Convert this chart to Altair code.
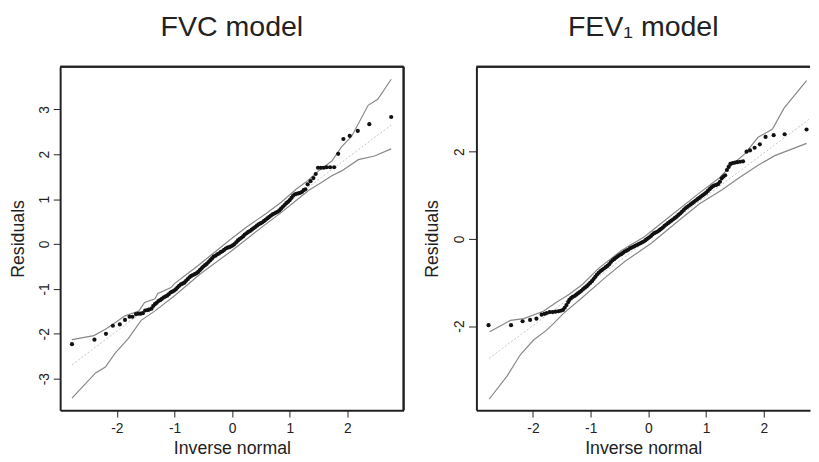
import altair as alt
import pandas as pd

FONT = "Liberation Sans"
INK = "#222222"

# ---------------- FVC model ----------------
fvc_x = [-2.78, -2.39, -2.19, -2.07, -1.95, -1.86, -1.78, -1.73, -1.67, -1.63, -1.59, -1.55,
         -1.51, -1.47, -1.44, -1.40, -1.37, -1.34, -1.31, -1.28, -1.25, -1.22, -1.19, -1.16,
         -1.13, -1.10, -1.07, -1.04, -1.01, -0.98, -0.95, -0.92, -0.89, -0.86, -0.83, -0.80,
         -0.77, -0.74, -0.71, -0.68, -0.65, -0.62, -0.59, -0.56, -0.53, -0.50, -0.47, -0.44,
         -0.41, -0.38, -0.35, -0.32, -0.29, -0.26, -0.23, -0.20, -0.17, -0.14, -0.11, -0.08,
         -0.05, -0.02, 0.01, 0.04, 0.07, 0.10, 0.13, 0.16, 0.19, 0.22, 0.25, 0.28, 0.31, 0.34,
         0.37, 0.40, 0.43, 0.46, 0.49, 0.52, 0.55, 0.58, 0.61, 0.64, 0.67, 0.70, 0.73, 0.76,
         0.79, 0.82, 0.85, 0.88, 0.91, 0.94, 0.97, 1.00, 1.03, 1.06, 1.09, 1.12, 1.15, 1.18,
         1.21, 1.24, 1.27, 1.31, 1.36, 1.41, 1.45, 1.49, 1.54, 1.59, 1.64, 1.70, 1.77, 1.84,
         1.93, 2.04, 2.18, 2.38, 2.76]
fvc_y = [-2.23, -2.13, -2.00, -1.82, -1.79, -1.69, -1.62, -1.62, -1.56, -1.55, -1.55, -1.54,
         -1.48, -1.47, -1.46, -1.44, -1.38, -1.34, -1.31, -1.27, -1.25, -1.22, -1.19, -1.17,
         -1.15, -1.12, -1.08, -1.06, -1.04, -1.01, -0.97, -0.93, -0.90, -0.88, -0.86, -0.82,
         -0.78, -0.74, -0.71, -0.69, -0.67, -0.65, -0.62, -0.58, -0.54, -0.50, -0.47, -0.44,
         -0.40, -0.36, -0.32, -0.28, -0.26, -0.23, -0.21, -0.18, -0.16, -0.13, -0.10, -0.08,
         -0.07, -0.05, -0.03, 0.00, 0.04, 0.08, 0.11, 0.14, 0.17, 0.21, 0.24, 0.27, 0.29, 0.32,
         0.35, 0.38, 0.41, 0.44, 0.46, 0.48, 0.51, 0.54, 0.57, 0.60, 0.63, 0.66, 0.68, 0.70,
         0.72, 0.75, 0.79, 0.83, 0.87, 0.91, 0.94, 0.98, 1.03, 1.08, 1.11, 1.12, 1.13, 1.14,
         1.16, 1.20, 1.22, 1.33, 1.40, 1.47, 1.56, 1.70, 1.70, 1.70, 1.71, 1.71, 1.71, 2.01,
         2.34, 2.41, 2.52, 2.67, 2.83]
fvc_up_x = [-2.78, -2.40, -2.20, -2.05, -1.86, -1.62, -1.52, -1.34, -1.29, -1.06, -1.00, -0.83,
            -0.60, -0.37, -0.03, 0.25, 0.59, 0.85, 1.11, 1.28, 1.50, 1.73, 1.90, 2.07, 2.36, 2.53, 2.76]
fvc_up_y = [-2.13, -2.04, -1.90, -1.77, -1.60, -1.49, -1.30, -1.22, -1.10, -0.97, -0.88, -0.71,
            -0.49, -0.25, 0.10, 0.38, 0.68, 0.93, 1.22, 1.38, 1.63, 1.85, 2.17, 2.39, 3.09, 3.23, 3.67]
fvc_lo_x = [-2.78, -2.37, -2.20, -2.03, -1.80, -1.58, -1.35, -1.00, -0.55, -0.03, 0.55, 0.85, 1.11,
            1.33, 1.50, 1.73, 1.90, 2.19, 2.47, 2.76]
fvc_lo_y = [-3.43, -2.87, -2.74, -2.43, -2.10, -1.70, -1.50, -1.15, -0.66, -0.17, 0.41, 0.70, 0.97,
            1.20, 1.33, 1.52, 1.63, 1.88, 1.96, 2.12]
fvc_ref_x = [-2.78, 2.76]
fvc_ref_y = [-2.69, 2.65]

# ---------------- FEV1 model ----------------
fev_x = [-2.77, -2.38, -2.18, -2.05, -1.94, -1.85, -1.80, -1.76, -1.71, -1.66, -1.61, -1.56,
         -1.52, -1.48, -1.45, -1.42, -1.39, -1.37, -1.34, -1.31, -1.28, -1.25, -1.22, -1.19,
         -1.16, -1.13, -1.10, -1.07, -1.04, -1.01, -0.98, -0.95, -0.92, -0.89, -0.86, -0.83,
         -0.80, -0.77, -0.74, -0.71, -0.68, -0.65, -0.62, -0.59, -0.56, -0.53, -0.50, -0.47,
         -0.44, -0.41, -0.38, -0.35, -0.32, -0.29, -0.26, -0.23, -0.20, -0.17, -0.14, -0.11,
         -0.08, -0.05, -0.02, 0.01, 0.04, 0.07, 0.10, 0.13, 0.16, 0.19, 0.22, 0.25, 0.28, 0.31,
         0.34, 0.37, 0.40, 0.43, 0.46, 0.49, 0.52, 0.55, 0.58, 0.61, 0.64, 0.67, 0.70, 0.73,
         0.76, 0.79, 0.82, 0.85, 0.88, 0.91, 0.94, 0.97, 1.00, 1.03, 1.06, 1.09, 1.12, 1.15,
         1.18, 1.21, 1.24, 1.27, 1.30, 1.33, 1.36, 1.39, 1.42, 1.46, 1.50, 1.54, 1.59, 1.64,
         1.70, 1.76, 1.84, 1.93, 2.03, 2.17, 2.36, 2.74]
fev_y = [-1.98, -1.98, -1.89, -1.86, -1.83, -1.74, -1.72, -1.70, -1.68, -1.68, -1.67, -1.66,
         -1.65, -1.63, -1.58, -1.52, -1.45, -1.40, -1.36, -1.33, -1.31, -1.28, -1.25, -1.22,
         -1.19, -1.15, -1.12, -1.09, -1.05, -1.01, -0.97, -0.92, -0.87, -0.82, -0.78, -0.74,
         -0.71, -0.68, -0.65, -0.62, -0.58, -0.53, -0.49, -0.46, -0.43, -0.40, -0.37, -0.35,
         -0.32, -0.29, -0.27, -0.25, -0.22, -0.20, -0.18, -0.16, -0.14, -0.12, -0.10, -0.08,
         -0.06, -0.03, 0.00, 0.03, 0.06, 0.10, 0.13, 0.15, 0.17, 0.20, 0.23, 0.26, 0.30, 0.33,
         0.36, 0.39, 0.42, 0.45, 0.48, 0.51, 0.55, 0.58, 0.62, 0.66, 0.70, 0.73, 0.76, 0.79,
         0.82, 0.85, 0.88, 0.91, 0.94, 0.97, 1.00, 1.03, 1.06, 1.10, 1.14, 1.18, 1.21, 1.23,
         1.24, 1.26, 1.31, 1.39, 1.43, 1.46, 1.58, 1.65, 1.72, 1.74, 1.75, 1.76, 1.77, 1.78,
         2.00, 2.03, 2.09, 2.17, 2.34, 2.38, 2.40, 2.51]
fev_up_x = [-2.75, -2.39, -2.16, -1.82, -1.60, -1.37, -1.14, -0.86, -0.46, -0.07, 0.31, 0.88,
            1.22, 1.44, 1.67, 1.90, 2.15, 2.35, 2.74]
fev_up_y = [-2.13, -1.87, -1.83, -1.66, -1.46, -1.27, -1.04, -0.67, -0.26, 0.05, 0.45, 1.05,
            1.39, 1.69, 1.95, 2.33, 2.52, 3.00, 3.63]
fev_lo_x = [-2.76, -2.45, -2.22, -1.99, -1.77, -1.65, -1.48, -1.14, -0.75, -0.41, 0.05, 0.59,
            0.88, 1.27, 1.56, 1.90, 2.19, 2.74]
fev_lo_y = [-3.68, -3.15, -2.66, -2.32, -2.10, -1.95, -1.72, -1.34, -0.89, -0.52, -0.10, 0.49,
            0.80, 1.12, 1.39, 1.69, 1.91, 2.19]
fev_ref_x = [-2.76, 2.78]
fev_ref_y = [-2.74, 2.74]


def panel(title, px, py, ux, uy, lx, ly, rx, ry, xdom, ydom, yticks, w, h, right_edge,
          ytick=7, ytitlepad=10):
    pts = pd.DataFrame({"x": px, "y": py})
    env = pd.concat([
        pd.DataFrame({"x": ux, "y": uy, "band": "upper"}),
        pd.DataFrame({"x": lx, "y": ly, "band": "lower"}),
    ])
    ref = pd.DataFrame({"x": rx, "y": ry})
    xs = alt.Scale(domain=xdom, nice=False, zero=False)
    ys = alt.Scale(domain=ydom, nice=False, zero=False)
    xax = alt.Axis(values=[-2, -1, 0, 1, 2], title="Inverse normal", grid=False,
                   domain=True, domainColor=INK, domainWidth=2,
                   tickColor=INK, tickWidth=1, tickSize=7,
                   labelFont=FONT, labelFontSize=14, labelColor=INK, labelPadding=5,
                   labelExpr="'' + datum.value", labelFlush=False,
                   titleFont=FONT, titleFontSize=18, titleFontWeight="normal",
                   titleColor=INK, titlePadding=4)
    yax = alt.Axis(values=yticks, title="Residuals", grid=False,
                   domain=True, domainColor=INK, domainWidth=2,
                   tickColor=INK, tickWidth=1, tickSize=ytick,
                   labelFont=FONT, labelFontSize=14, labelColor=INK, labelPadding=2,
                   labelAngle=270, labelAlign="center", labelBaseline="bottom",
                   labelExpr="'' + datum.value", labelFlush=False,
                   titleFont=FONT, titleFontSize=18, titleFontWeight="normal",
                   titleColor=INK, titlePadding=ytitlepad)

    dotted = alt.Chart(ref).mark_line(color="#c4c4c4", strokeWidth=1, strokeDash=[2, 2]).encode(
        x=alt.X("x:Q", scale=xs, axis=xax), y=alt.Y("y:Q", scale=ys, axis=yax))
    envl = alt.Chart(env).mark_line(color="#888888", strokeWidth=1.2).encode(
        x="x:Q", y="y:Q", detail="band:N")
    dots = alt.Chart(pts).mark_circle(color="#111111", size=18, opacity=1).encode(x="x:Q", y="y:Q")
    top = alt.Chart(ref).mark_rule(color=INK, strokeWidth=2).encode(
        x=alt.value(0), x2=alt.value(w), y=alt.value(0))
    layers = [dotted, envl, dots, top]
    if right_edge:
        layers.append(alt.Chart(ref).mark_rule(color=INK, strokeWidth=2).encode(
            x=alt.value(w), y=alt.value(0), y2=alt.value(h)))
    return alt.layer(*layers).properties(
        width=w, height=h,
        title=alt.TitleParams(text=title, font=FONT, fontSize=29, fontWeight="normal",
                              color=INK, offset=1, anchor="middle", baseline="alphabetic"))


left = panel("FVC model", fvc_x, fvc_y, fvc_up_x, fvc_up_y, fvc_lo_x, fvc_lo_y,
             fvc_ref_x, fvc_ref_y, [-2.985, 2.975], [-3.70, 3.95], [-3, -2, -1, 0, 1, 2, 3],
             349, 349, True)
right = panel("FEV\u2081 model", fev_x, fev_y, fev_up_x, fev_up_y, fev_lo_x, fev_lo_y,
              fev_ref_x, fev_ref_y, [-2.98, 2.80], [-3.93, 3.95], [-2, 0, 2],
              339, 349, False, ytick=8, ytitlepad=12)

chart = alt.hconcat(left, right, spacing=74, bounds="flush").properties(
    padding={"left": 2, "top": 2, "right": 0, "bottom": 0}
).configure_view(stroke=None)

chart.save("out.html", embed_options={"renderer": "svg", "actions": False})
